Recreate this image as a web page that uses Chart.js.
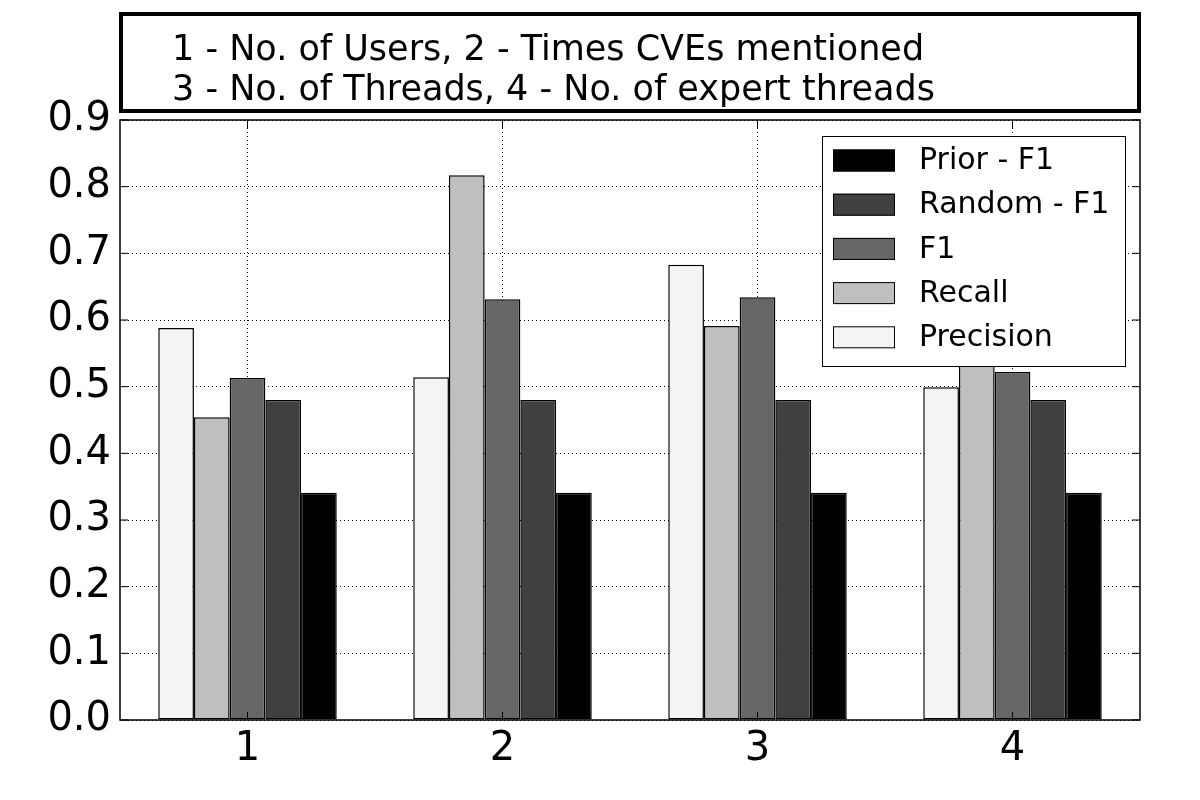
<!DOCTYPE html>
<html>
<head>
<meta charset="utf-8">
<script src="https://cdn.jsdelivr.net/npm/chart.js@4"></script>
<style>
  body { margin: 0; background: #fff; }
  canvas { display: block; }
</style>
</head>
<body>
<canvas id="chart" width="1200" height="800"></canvas>
<script>
// data
const categories = ['1', '2', '3', '4'];
const precision = [0.588, 0.514, 0.683, 0.499];
const recall = [0.454, 0.817, 0.591, 0.546];
const f1 = [0.513, 0.631, 0.634, 0.522];
const randomF1 = [0.48, 0.48, 0.48, 0.48];
const priorF1 = [0.341, 0.341, 0.341, 0.341];
const yTicks = [0.0, 0.1, 0.2, 0.3, 0.4, 0.5, 0.6, 0.7, 0.8, 0.9];
const noteLines = [
  '1 - No. of Users, 2 - Times CVEs mentioned',
  '3 - No. of Threads, 4 - No. of expert threads'
];

const FONT = '"DejaVu Sans", sans-serif';

// top note box, plot frame with inner ticks, legend inside the plot
const decorations = {
  id: 'decorations',
  afterDraw(chart) {
    const ctx = chart.ctx;
    const a = chart.chartArea;
    ctx.save();

    // note box
    ctx.lineWidth = 4;
    ctx.strokeStyle = '#000';
    ctx.strokeRect(121, 14, 1018, 97);
    ctx.fillStyle = '#000';
    ctx.font = '35px ' + FONT;
    ctx.textAlign = 'left';
    ctx.textBaseline = 'alphabetic';
    ctx.fillText(noteLines[0], 172, 60);
    ctx.fillText(noteLines[1], 172, 100);

    // frame
    ctx.lineWidth = 1.5;
    ctx.strokeRect(a.left, a.top, a.right - a.left, a.bottom - a.top);

    // inner tick marks
    ctx.lineWidth = 1;
    const ys = chart.scales.y;
    ys.ticks.forEach((t, i) => {
      const py = ys.getPixelForTick(i);
      ctx.beginPath();
      ctx.moveTo(a.left, py); ctx.lineTo(a.left + 8, py);
      ctx.moveTo(a.right, py); ctx.lineTo(a.right - 8, py);
      ctx.stroke();
    });
    const xs = chart.scales.x;
    xs.ticks.forEach((t, i) => {
      const px = xs.getPixelForTick(i);
      ctx.beginPath();
      ctx.moveTo(px, a.bottom); ctx.lineTo(px, a.bottom - 8);
      ctx.moveTo(px, a.top); ctx.lineTo(px, a.top + 8);
      ctx.stroke();
    });

    // legend, reversed order like the original
    const sets = chart.data.datasets.slice().reverse();
    const lx = 822, ly = 136, lw = 303, lh = 230;
    ctx.fillStyle = '#fff';
    ctx.fillRect(lx, ly, lw, lh);
    ctx.lineWidth = 1;
    ctx.strokeStyle = '#000';
    ctx.strokeRect(lx + 0.5, ly + 0.5, lw, lh);
    ctx.font = '30px ' + FONT;
    ctx.textBaseline = 'middle';
    sets.forEach((ds, i) => {
      const cy = 160.5 + i * 44.2;
      ctx.fillStyle = ds.backgroundColor;
      ctx.fillRect(833, cy - 11, 62, 22);
      ctx.strokeStyle = '#000';
      ctx.strokeRect(833.5, cy - 10.5, 61, 21);
      ctx.fillStyle = '#000';
      ctx.fillText(ds.label, 919, cy + 1);
    });

    ctx.restore();
  }
};

const barStyle = { borderColor: '#000', borderWidth: 1.5, borderSkipped: false };

new Chart(document.getElementById('chart'), {
  type: 'bar',
  data: {
    labels: categories,
    datasets: [
      { label: 'Precision', data: precision, backgroundColor: '#f4f4f4', ...barStyle },
      { label: 'Recall', data: recall, backgroundColor: '#bfbfbf', ...barStyle },
      { label: 'F1', data: f1, backgroundColor: '#666666', ...barStyle },
      { label: 'Random - F1', data: randomF1, backgroundColor: '#404040', ...barStyle },
      { label: 'Prior - F1', data: priorF1, backgroundColor: '#000000', ...barStyle }
    ]
  },
  options: {
    responsive: false,
    animation: false,
    categoryPercentage: 0.7,
    barPercentage: 1.0,
    layout: { padding: { top: 120, right: 60, left: 0, bottom: 0 } },
    plugins: {
      legend: { display: false },
      tooltip: { enabled: false }
    },
    scales: {
      x: {
        z: 1,
        border: { display: false, dash: [1, 3] },
        grid: { offset: false, color: '#000', lineWidth: 1, drawTicks: false },
        ticks: { color: '#000', font: { family: FONT, size: 40 }, padding: 6 },
        afterFit: (scale) => { scale.height = 80; }
      },
      y: {
        z: 1,
        min: 0,
        max: 0.9,
        border: { display: false, dash: [1, 3] },
        afterBuildTicks: (scale) => { scale.ticks = yTicks.map(v => ({ value: v })); },
        grid: { color: '#000', lineWidth: 1, drawTicks: false },
        ticks: {
          color: '#000',
          font: { family: FONT, size: 40 },
          padding: 9,
          callback: (v) => Number(v).toFixed(1)
        },
        afterFit: (scale) => { scale.width = 120; }
      }
    }
  },
  plugins: [decorations]
});
</script>
</body>
</html>
